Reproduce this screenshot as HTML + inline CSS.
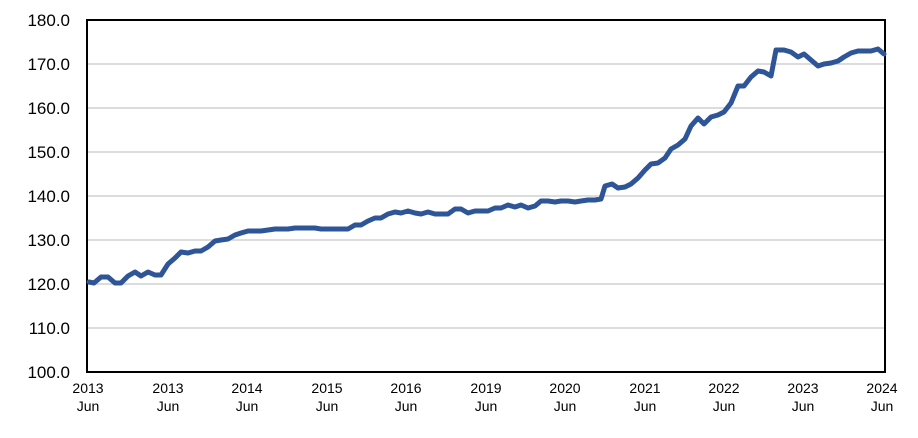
<!DOCTYPE html>
<html><head><meta charset="utf-8"><style>
body{margin:0;background:#fff}
text{font-family:"Liberation Sans",Arial,sans-serif;fill:#000}
</style></head><body>
<svg width="918" height="433" viewBox="0 0 918 433" xmlns="http://www.w3.org/2000/svg">
<rect width="918" height="433" fill="#fff"/>
<g stroke="#d0d0d0" stroke-width="1.5">
<line x1="87" y1="64" x2="885" y2="64"/><line x1="87" y1="108" x2="885" y2="108"/>
<line x1="87" y1="152" x2="885" y2="152"/><line x1="87" y1="196" x2="885" y2="196"/>
<line x1="87" y1="240" x2="885" y2="240"/><line x1="87" y1="284" x2="885" y2="284"/>
<line x1="87" y1="328" x2="885" y2="328"/>
</g>
<rect x="87" y="20" width="798" height="352" fill="none" stroke="#000" stroke-width="2"/>
<g font-size="17" text-anchor="end">
<text x="70" y="26">180.0</text><text x="70" y="70">170.0</text><text x="70" y="114">160.0</text>
<text x="70" y="158">150.0</text><text x="70" y="202">140.0</text><text x="70" y="246">130.0</text>
<text x="70" y="290">120.0</text><text x="70" y="334">110.0</text><text x="70" y="378">100.0</text>
</g>
<g font-size="14" text-anchor="middle">
<text x="88" y="393">2013</text><text x="88" y="411">Jun</text>
<text x="168" y="393">2013</text><text x="168" y="411">Jun</text>
<text x="247" y="393">2014</text><text x="247" y="411">Jun</text>
<text x="327" y="393">2015</text><text x="327" y="411">Jun</text>
<text x="406" y="393">2016</text><text x="406" y="411">Jun</text>
<text x="486" y="393">2019</text><text x="486" y="411">Jun</text>
<text x="565" y="393">2020</text><text x="565" y="411">Jun</text>
<text x="645" y="393">2021</text><text x="645" y="411">Jun</text>
<text x="724" y="393">2022</text><text x="724" y="411">Jun</text>
<text x="803" y="393">2023</text><text x="803" y="411">Jun</text>
<text x="882" y="393">2024</text><text x="882" y="411">Jun</text>
</g>
<polyline fill="none" stroke="#2e5597" stroke-width="5" stroke-linejoin="round" stroke-linecap="round" points="89,282 94,283 101,277 108,277 115,283 121,283 128,276 135,272 141,276 148,272 155,275 161,275 168,264 175,258 181,252 188,253 195,251 201,251 208,247 215,241 221,240 228,239 235,235 241,233 248,231 255,231 261,231 268,230 275,229 281,229 288,229 295,228 301,228 308,228 315,228 321,229 328,229 335,229 341,229 348,229 355,225 361,225 368,221 375,218 381,218 388,214 395,212 401,213 408,211 415,213 421,214 428,212 435,214 441,214 448,214 455,209 461,209 468,213 475,211 481,211 488,211 495,208 501,208 508,205 515,207 521,205 528,208 535,206 541,201 548,201 555,202 561,201 568,201 575,202 581,201 588,200 595,200 601,199 605,186 612,184 618,188 625,187 631,184 638,178 645,170 651,164 658,163 665,158 671,149 678,145 685,139 691,126 698,118 704,124 711,117 718,115 724,112 731,103 738,86 744,86 751,77 758,71 764,72 771,76 776,50 784,50 791,52 798,57 804,54 811,60 818,66 824,64 831,63 838,61 844,57 851,53 858,51 864,51 871,51 878,49 884,54"/>
</svg>
</body></html>
